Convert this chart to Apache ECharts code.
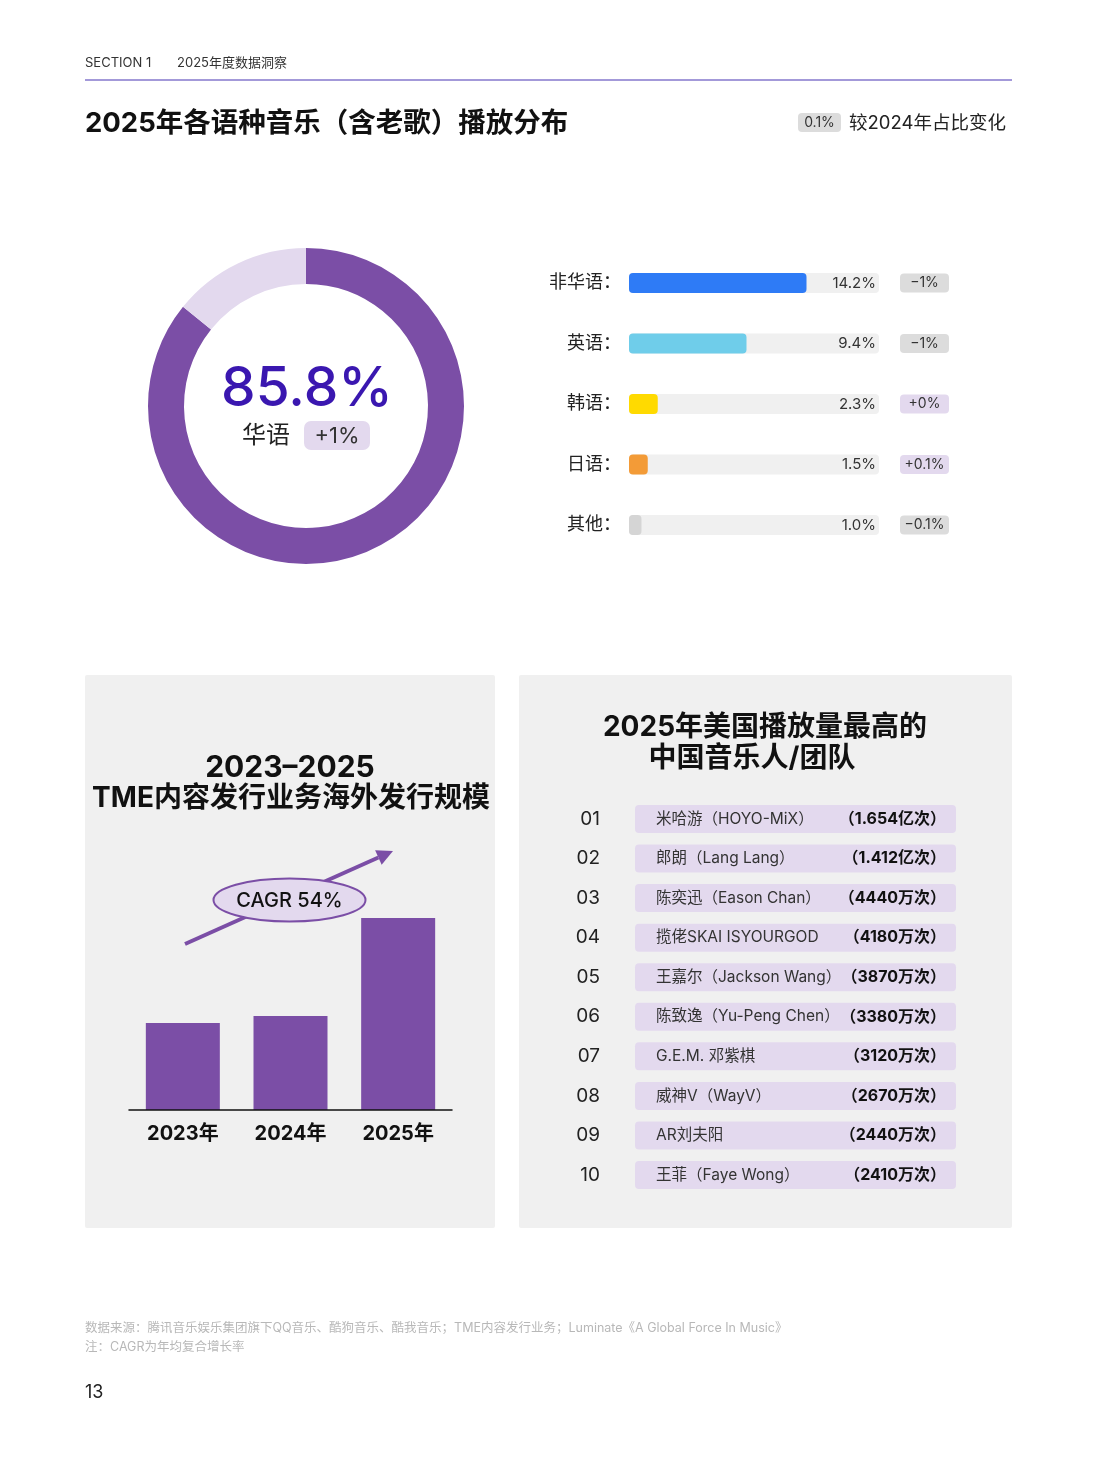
<!DOCTYPE html>
<html>
<head>
<meta charset="utf-8">
<title>2025年各语种音乐播放分布</title>
<script src="https://cdn.jsdelivr.net/npm/echarts@6/dist/echarts.min.js"></script>
<style>
  html, body { margin: 0; padding: 0; background: #fff; }
  #chart { width: 1098px; height: 1478px; }
</style>
</head>
<body>
<div id="chart"></div>
<script>
// ---- data ----
const chineseShare = 85.8
const chineseChange = '+1%'
const overallChange = '0.1%'

const langNames = ['非华语', '英语', '韩语', '日语', '其他']
const langShares = [14.2, 9.4, 2.3, 1.5, 1.0]
const langChanges = ['−1%', '−1%', '+0%', '+0.1%', '−0.1%']

const years = ['2023年', '2024年', '2025年']
const overseasScale = [87, 94, 192]
const cagrText = 'CAGR 54%'

const rankNos = ['01', '02', '03', '04', '05', '06', '07', '08', '09', '10']
const rankNames = [
  '米哈游（HOYO-MiX）', '郎朗（Lang Lang）', '陈奕迅（Eason Chan）', '揽佬SKAI ISYOURGOD',
  '王嘉尔（Jackson Wang）', '陈致逸（Yu-Peng Chen）', 'G.E.M. 邓紫棋', '威神V（WayV）',
  'AR刘夫阳', '王菲（Faye Wong）'
]
const rankPlays = [16540, 14120, 4440, 4180, 3870, 3380, 3120, 2670, 2440, 2410] // 万次
const rankPlayLabels = ['1.654亿次', '1.412亿次', '4440万次', '4180万次', '3870万次',
  '3380万次', '3120万次', '2670万次', '2440万次', '2410万次']

// ---- styles ----
const FONT = 'Inter, "Noto Sans CJK SC", sans-serif'
const PURPLE = '#7b4ea6'
const LILAC = '#e3d9ee'
const GREY_BADGE = '#dcdcdc'
const langColors = ['#2e7bf6', '#6fcdea', '#ffda00', '#f39b37', '#d5d5d5']

const chart = echarts.init(document.getElementById('chart'))

function txt(x, y, text, size, opts) {
  opts = opts || {}
  return {
    type: 'text', x, y: y + 1.5, z: 20,
    style: {
      text,
      fill: opts.color || '#222',
      font: (opts.weight || 'normal') + ' ' + size + 'px ' + FONT,
      textAlign: opts.align || 'left',
      textVerticalAlign: 'middle'
    }
  }
}
function box(x, y, w, h, r, color) {
  return { type: 'rect', z: 0, shape: { x, y, width: w, height: h, r }, style: { fill: color } }
}

// arrow (decoration of the CAGR note)
const tip = [393, 851], tail = [185, 944]
const dx = tip[0] - tail[0], dy = tip[1] - tail[1]
const len = Math.sqrt(dx * dx + dy * dy)
const ux = dx / len, uy = dy / len
const base = [tip[0] - 16 * ux, tip[1] - 16 * uy]

const graphics = [
  // header
  txt(85, 62, 'SECTION 1', 13, { color: '#333' }),
  txt(177, 62, '2025年度数据洞察', 13, { color: '#333' }),
  { type: 'line', z: 1, shape: { x1: 85, y1: 80, x2: 1012, y2: 80 }, style: { stroke: '#8577cc', lineWidth: 1.5 } },
  txt(85, 122, '2025年各语种音乐（含老歌）播放分布', 27.5, { weight: 'bold', color: '#111' }),
  box(798, 113, 43, 19, 4, GREY_BADGE),
  txt(819.5, 121.5, overallChange, 14, { align: 'center', color: '#333' }),
  txt(849, 122, '较2024年占比变化', 18.5, { color: '#222' }),

  // donut centre
  txt(307, 388, chineseShare.toFixed(1) + '%', 55, { align: 'center', weight: 500, color: '#3a17b0' }),
  txt(266, 434, '华语', 24, { align: 'center', color: '#222' }),
  box(304, 421, 66, 29, 7, LILAC),
  txt(337, 434.5, chineseChange, 22, { align: 'center', color: '#333' }),

  // panels
  box(85, 675, 410, 553, 2, '#f0f0f0'),
  box(519, 675, 493, 553, 2, '#f0f0f0'),
  txt(290, 766, '2023–2025', 30, { align: 'center', weight: 'bold', color: '#111' }),
  txt(291, 797, 'TME内容发行业务海外发行规模', 28, { align: 'center', weight: 'bold', color: '#111' }),
  txt(765, 726, '2025年美国播放量最高的', 28, { align: 'center', weight: 'bold', color: '#111' }),
  txt(752, 757, '中国音乐人/团队', 28, { align: 'center', weight: 'bold', color: '#111' }),

  // CAGR arrow + ellipse
  { type: 'line', z: 10, shape: { x1: tail[0], y1: tail[1], x2: base[0], y2: base[1] }, style: { stroke: PURPLE, lineWidth: 4 } },
  { type: 'polygon', z: 10, shape: { points: [tip, [base[0] - 8 * uy, base[1] + 8 * ux], [base[0] + 8 * uy, base[1] - 8 * ux]] }, style: { fill: PURPLE } },
  { type: 'ellipse', z: 11, shape: { cx: 289.5, cy: 900, rx: 76, ry: 21.5 }, style: { fill: LILAC, stroke: PURPLE, lineWidth: 2 } },
  txt(289.5, 899, cagrText, 20, { align: 'center', weight: 500, color: '#111' }),

  // footnotes
  txt(85, 1327, '数据来源：腾讯音乐娱乐集团旗下QQ音乐、酷狗音乐、酷我音乐；TME内容发行业务；Luminate《A Global Force In Music》', 12.5, { color: '#b8b8b8' }),
  txt(85, 1346, '注：CAGR为年均复合增长率', 12.5, { color: '#b8b8b8' }),
  txt(85, 1391, '13', 18, { color: '#222' })
]

const idx = n => Array.from({ length: n }, (_, i) => String(i))
const noLine = { axisLine: { show: false }, axisTick: { show: false } }

const option = {
  animation: false,
  textStyle: { fontFamily: FONT },
  graphic: graphics,
  grid: [
    // language bars
    { left: 629, width: 250, top: 252.75, height: 302.5 },
    // TME overseas scale
    { left: 129, width: 323, top: 910, height: 200 },
    // ranking list
    { left: 635, width: 321, top: 799.2, height: 395.6 }
  ],
  xAxis: [
    { gridIndex: 0, type: 'value', min: 0, max: 20, show: false },
    {
      gridIndex: 1, type: 'category', data: years, z: 10,
      axisLine: { lineStyle: { color: '#111', width: 1.5 } },
      axisTick: { show: false },
      axisLabel: { color: '#111', fontSize: 20, fontWeight: 'bold', margin: 14 }
    },
    { gridIndex: 2, type: 'value', min: 0, max: 16540, show: false }
  ],
  yAxis: [
    {
      gridIndex: 0, type: 'category', inverse: true, data: langNames, z: 10, ...noLine,
      axisLabel: { formatter: v => v + '：', fontSize: 18, color: '#222', margin: 8, padding: [3, 0, 0, 0] }
    },
    {
      gridIndex: 0, type: 'category', inverse: true, position: 'right', data: idx(5), z: 10, ...noLine,
      axisLabel: { inside: true, margin: 3, fontSize: 15, color: '#333', formatter: (v, i) => langShares[i].toFixed(1) + '%' }
    },
    {
      gridIndex: 0, type: 'category', inverse: true, position: 'right', data: idx(5), z: 10, ...noLine,
      axisLabel: {
        margin: 21,
        formatter: (v, i) => (langChanges[i][0] === '+' ? '{pos|' : '{neg|') + langChanges[i] + '}',
        rich: {
          pos: { width: 49, height: 19, align: 'center', fontSize: 14, color: '#333', backgroundColor: LILAC, borderRadius: 4 },
          neg: { width: 49, height: 19, align: 'center', fontSize: 14, color: '#333', backgroundColor: GREY_BADGE, borderRadius: 4 }
        }
      }
    },
    { gridIndex: 1, type: 'value', min: 0, max: 200, show: false },
    {
      gridIndex: 2, type: 'category', inverse: true, data: rankNos, z: 10, ...noLine,
      axisLabel: { fontSize: 19, color: '#222', margin: 35 }
    },
    {
      gridIndex: 2, type: 'category', inverse: true, position: 'left', data: idx(10), z: 10, ...noLine,
      axisLabel: { inside: true, margin: 21, fontSize: 15.5, color: '#333', formatter: (v, i) => rankNames[i] }
    },
    {
      gridIndex: 2, type: 'category', inverse: true, position: 'right', data: idx(10), z: 10, ...noLine,
      axisLabel: { inside: true, margin: 10, fontSize: 16, fontWeight: 'bold', color: '#111', formatter: (v, i) => '（' + rankPlayLabels[i] + '）' }
    }
  ],
  series: [
    {
      type: 'pie',
      center: [306, 406],
      radius: [122, 158],
      startAngle: 90,
      silent: true,
      label: { show: false },
      labelLine: { show: false },
      data: [
        { name: '华语', value: chineseShare, itemStyle: { color: PURPLE } },
        { name: '非华语', value: langShares[0], itemStyle: { color: LILAC } }
      ]
    },
    {
      name: '占比',
      type: 'bar',
      xAxisIndex: 0, yAxisIndex: 0,
      barWidth: 20,
      showBackground: true,
      backgroundStyle: { color: '#f0f0f0', borderRadius: 4 },
      itemStyle: { borderRadius: 4 },
      data: langShares.map((v, i) => ({ value: v, itemStyle: { color: langColors[i] } }))
    },
    {
      name: '海外发行规模',
      type: 'bar',
      xAxisIndex: 1, yAxisIndex: 3,
      barWidth: 74,
      itemStyle: { color: PURPLE },
      data: overseasScale
    },
    {
      name: '播放量',
      type: 'bar',
      xAxisIndex: 2, yAxisIndex: 4,
      barWidth: 28,
      showBackground: true,
      backgroundStyle: { color: LILAC, borderRadius: 4 },
      itemStyle: { color: 'rgba(0,0,0,0)' },
      data: rankPlays
    }
  ]
}

chart.setOption(option)
</script>
</body>
</html>
